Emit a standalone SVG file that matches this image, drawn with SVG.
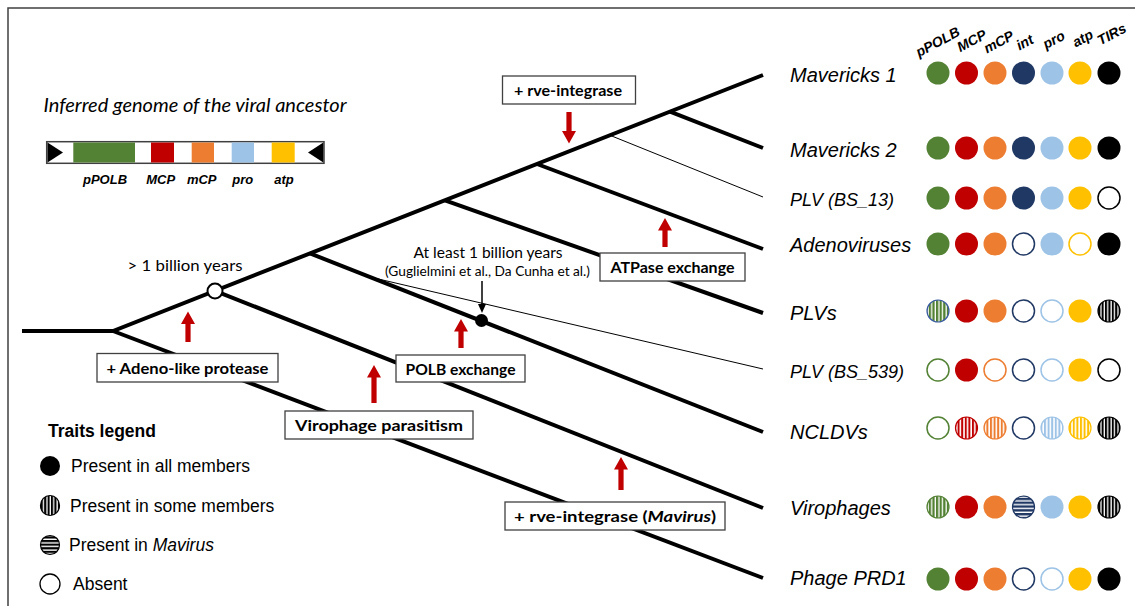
<svg xmlns="http://www.w3.org/2000/svg" width="1135" height="606" viewBox="0 0 1135 606">
<defs>
<style>
.frame{stroke:#404040;stroke-width:1.5;fill:none}
.br{stroke:#000;stroke-width:4;fill:none}
.thin{stroke:#000;stroke-width:1;fill:none}
.box{fill:#fff;stroke:#404040;stroke-width:1.3}
.bt{font-family:Lato,"Open Sans",sans-serif;font-weight:bold;font-size:16px;text-anchor:middle;fill:#000}
.ann{font-family:Lato,"Open Sans",sans-serif;text-anchor:middle;fill:#000}
.tax{font-family:"Liberation Sans",Arial,sans-serif;font-style:italic;font-size:20px;fill:#000}
.tax.sm{font-size:18px}
.gl{font-family:"Liberation Sans",Arial,sans-serif;font-style:italic;font-weight:bold;font-size:13px;text-anchor:middle;fill:#000}
.hd{font-family:"Liberation Sans",Arial,sans-serif;font-style:italic;font-weight:bold;font-size:14px;text-anchor:middle;fill:#000}
.leg{font-family:"Liberation Sans",Arial,sans-serif;font-size:17.5px;fill:#000}
.red{fill:#C00000}
.g{fill:#548235}.r{fill:#C00000}.o{fill:#ED7D31}.n{fill:#203864}.b{fill:#9DC3E6}.y{fill:#FFC000}.k{fill:#000}
.og{fill:#fff;stroke:#548235;stroke-width:1.5}.or{fill:#fff;stroke:#C00000;stroke-width:1.5}.oo{fill:#fff;stroke:#ED7D31;stroke-width:1.5}
.on{fill:#fff;stroke:#203864;stroke-width:1.5}.ob{fill:#fff;stroke:#9DC3E6;stroke-width:1.5}.oy{fill:#fff;stroke:#FFC000;stroke-width:1.5}.ok{fill:#fff;stroke:#000;stroke-width:1.5}
.sg{fill:url(#vG);stroke:#548235;stroke-width:1.2}.sr{fill:url(#vR);stroke:#C00000;stroke-width:1.2}.so{fill:url(#vO);stroke:#ED7D31;stroke-width:1.2}
.sb{fill:url(#vB);stroke:#9DC3E6;stroke-width:1.2}.sy{fill:url(#vY);stroke:#FFC000;stroke-width:1.2}.sk{fill:url(#vK);stroke:#000;stroke-width:1.2}
.sg.bl{stroke:#3A5BA0}
.hn{fill:url(#hN);stroke:#203864;stroke-width:1.2}
</style>
<pattern id="vG" patternUnits="userSpaceOnUse" width="3.6" height="10"><rect width="3.6" height="10" fill="#fff"/><rect width="2.3" height="10" fill="#548235"/></pattern>
<pattern id="vR" patternUnits="userSpaceOnUse" width="3.6" height="10"><rect width="3.6" height="10" fill="#fff"/><rect width="2" height="10" fill="#C00000"/></pattern>
<pattern id="vO" patternUnits="userSpaceOnUse" width="3.6" height="10"><rect width="3.6" height="10" fill="#fff"/><rect width="2" height="10" fill="#ED7D31"/></pattern>
<pattern id="vB" patternUnits="userSpaceOnUse" width="3.6" height="10"><rect width="3.6" height="10" fill="#fff"/><rect width="2" height="10" fill="#9DC3E6"/></pattern>
<pattern id="vY" patternUnits="userSpaceOnUse" width="3.6" height="10"><rect width="3.6" height="10" fill="#fff"/><rect width="2" height="10" fill="#FFC000"/></pattern>
<pattern id="vK" patternUnits="userSpaceOnUse" width="3.4" height="10"><rect width="3.4" height="10" fill="#fff"/><rect width="2.1" height="10" fill="#000"/></pattern>
<pattern id="hN" patternUnits="userSpaceOnUse" width="10" height="3.8"><rect width="10" height="3.8" fill="#fff"/><rect width="10" height="2.4" fill="#203864"/></pattern>
<pattern id="hK" patternUnits="userSpaceOnUse" width="10" height="3.6"><rect width="10" height="3.6" fill="#fff"/><rect width="10" height="2.2" fill="#000"/></pattern>
</defs>
<rect width="1135" height="606" fill="#fff"/>
<path class="frame" d="M8,606 L8,8 L1135,8"/>

<g id="genome">
<text class="ann" x="195" y="112" font-size="19" font-style="italic" textLength="303" lengthAdjust="spacingAndGlyphs">Inferred genome of the viral ancestor</text>
<rect x="46.7" y="141.7" width="277.3" height="21.6" fill="#fff" stroke="#404040" stroke-width="1.5"/>
<polygon points="47.5,142.5 63,152.5 47.5,162.5" fill="#000"/>
<polygon points="323.3,142.5 308,152.5 323.3,162.5" fill="#000"/>
<rect x="73.3" y="142.5" width="61.7" height="20" class="g"/>
<rect x="151" y="142.5" width="23" height="20" class="r"/>
<rect x="191.7" y="142.5" width="22.3" height="20" class="o"/>
<rect x="231.7" y="142.5" width="22.3" height="20" class="b"/>
<rect x="271.7" y="142.5" width="23" height="20" class="y"/>
<text class="gl" x="105" y="184">pPOLB</text>
<text class="gl" x="160.7" y="184">MCP</text>
<text class="gl" x="201.7" y="184">mCP</text>
<text class="gl" x="242.7" y="184">pro</text>
<text class="gl" x="284" y="184">atp</text>
</g>

<g id="connectors">
<path class="br" d="M22,331 L113,331 L763,75"/>
<path class="br" d="M670,111.7 L763,148"/>
<path class="br" d="M537,164 L763,249"/>
<path class="br" d="M445,200.3 L763,313"/>
<path class="br" d="M310,253.4 L763,432"/>
<path class="br" d="M215,290.8 L763,508"/>
<path class="br" d="M113,331 L763,578"/>
<path class="thin" d="M610,135.3 L763,197"/>
<path class="thin" d="M372,277.5 L763,369"/>
<line x1="482" y1="281" x2="482" y2="306" stroke="#000" stroke-width="1.5"/>
<polygon points="478,304 486,304 482,313" fill="#000"/>
</g>

<g id="node-root-open"><circle cx="215" cy="291" r="7.5" fill="#fff" stroke="#000" stroke-width="2"/>
<text class="ann" x="185" y="271" font-size="15" textLength="115" lengthAdjust="spacingAndGlyphs">&gt; 1 billion years</text></g>
<g id="node-dated"><circle cx="481.5" cy="320.5" r="6.5" fill="#000"/>
<text class="ann" x="488" y="258" font-size="15.5" textLength="149" lengthAdjust="spacingAndGlyphs">At least 1 billion years</text>
<text class="ann" x="487.5" y="275.5" font-size="12.5" textLength="205" lengthAdjust="spacingAndGlyphs">(Guglielmini et al., Da Cunha et al.)</text></g>

<g id="ev-rve">
<path class="red" d="M569,143.5 L576,131 L571.6,131 L571.6,112 L566.4,112 L566.4,131 L562,131 Z"/>
<rect class="box" x="502.5" y="76" width="133" height="28"/>
<text class="bt" x="568" y="96" textLength="108" lengthAdjust="spacingAndGlyphs">+ rve-integrase</text></g>
<g id="ev-atpase">
<path class="red" d="M665,218 L672,230.5 L667.6,230.5 L667.6,247 L662.4,247 L662.4,230.5 L658,230.5 Z"/>
<rect class="box" x="600" y="253" width="145" height="28"/>
<text class="bt" x="672.5" y="273" textLength="124" lengthAdjust="spacingAndGlyphs">ATPase exchange</text></g>
<g id="ev-adeno">
<path class="red" d="M188,311.5 L195,324 L190.6,324 L190.6,342 L185.4,342 L185.4,324 L181,324 Z"/>
<rect class="box" x="97" y="353.5" width="181" height="28.5"/>
<text class="bt" x="187.5" y="373.5" textLength="162" lengthAdjust="spacingAndGlyphs">+ Adeno-like protease</text></g>
<g id="ev-polb">
<path class="red" d="M461,319 L468,331.5 L463.6,331.5 L463.6,348 L458.4,348 L458.4,331.5 L454,331.5 Z"/>
<rect class="box" x="396" y="355" width="129" height="27"/>
<text class="bt" x="460.5" y="374.5" textLength="110" lengthAdjust="spacingAndGlyphs">POLB exchange</text></g>
<g id="ev-parasitism">
<path class="red" d="M374,365 L381,377.5 L376.6,377.5 L376.6,403 L371.4,403 L371.4,377.5 L367,377.5 Z"/>
<rect class="box" x="285" y="411" width="188" height="28"/>
<text class="bt" x="379" y="430.5" textLength="168" lengthAdjust="spacingAndGlyphs">Virophage parasitism</text></g>
<g id="ev-mavirus">
<path class="red" d="M621,457 L628,469.5 L623.6,469.5 L623.6,490 L618.4,490 L618.4,469.5 L614,469.5 Z"/>
<rect class="box" x="505" y="502" width="220" height="28"/>
<text class="bt" x="615" y="521.5" textLength="202" lengthAdjust="spacingAndGlyphs">+ rve-integrase (<tspan font-style="italic">Mavirus</tspan>)</text></g>

<g id="headers" class="hd">
<text x="940" y="46" transform="rotate(-28 940 46)">pPOLB</text>
<text x="974" y="45" transform="rotate(-28 974 45)">MCP</text>
<text x="1001" y="46" transform="rotate(-28 1001 46)">mCP</text>
<text x="1027" y="46.5" transform="rotate(-28 1027 46.5)">int</text>
<text x="1056" y="44" transform="rotate(-28 1056 44)">pro</text>
<text x="1085" y="42.5" transform="rotate(-28 1085 42.5)">atp</text>
<text x="1114" y="38.5" transform="rotate(-28 1114 38.5)">TIRs</text>
</g>

<g id="taxon-mavericks1"><text class="tax" x="790" y="82">Mavericks 1</text>
<circle cx="938" cy="73" r="11.5" class="g"/><circle cx="966.5" cy="73" r="11.5" class="r"/><circle cx="995" cy="73" r="11.5" class="o"/><circle cx="1023.5" cy="73" r="11.5" class="n"/><circle cx="1052" cy="73" r="11.5" class="b"/><circle cx="1080" cy="73" r="11.5" class="y"/><circle cx="1109" cy="73" r="11.5" class="k"/></g>
<g id="taxon-mavericks2"><text class="tax" x="790" y="157">Mavericks 2</text>
<circle cx="938" cy="148" r="11.5" class="g"/><circle cx="966.5" cy="148" r="11.5" class="r"/><circle cx="995" cy="148" r="11.5" class="o"/><circle cx="1023.5" cy="148" r="11.5" class="n"/><circle cx="1052" cy="148" r="11.5" class="b"/><circle cx="1080" cy="148" r="11.5" class="y"/><circle cx="1109" cy="148" r="11.5" class="k"/></g>
<g id="taxon-plv-bs13"><text class="tax sm" x="790" y="205.5">PLV (BS_13)</text>
<circle cx="938" cy="198" r="11.5" class="g"/><circle cx="966.5" cy="198" r="11.5" class="r"/><circle cx="995" cy="198" r="11.5" class="o"/><circle cx="1023.5" cy="198" r="11.5" class="n"/><circle cx="1052" cy="198" r="11.5" class="b"/><circle cx="1080" cy="198" r="11.5" class="y"/><circle cx="1109" cy="198" r="11" class="ok"/></g>
<g id="taxon-adenoviruses"><text class="tax" x="790" y="252">Adenoviruses</text>
<circle cx="938" cy="244" r="11.5" class="g"/><circle cx="966.5" cy="244" r="11.5" class="r"/><circle cx="995" cy="244" r="11.5" class="o"/><circle cx="1023.5" cy="244" r="11" class="on"/><circle cx="1052" cy="244" r="11.5" class="b"/><circle cx="1080" cy="244" r="11" class="oy"/><circle cx="1109" cy="244" r="11.5" class="k"/></g>
<g id="taxon-plvs"><text class="tax" x="790" y="320">PLVs</text>
<circle cx="938" cy="311" r="11" class="sg bl"/><circle cx="966.5" cy="311" r="11.5" class="r"/><circle cx="995" cy="311" r="11.5" class="o"/><circle cx="1023.5" cy="311" r="11" class="on"/><circle cx="1052" cy="311" r="11" class="ob"/><circle cx="1080" cy="311" r="11.5" class="y"/><circle cx="1109" cy="311" r="11" class="sk"/></g>
<g id="taxon-plv-bs539"><text class="tax sm" x="790" y="377.5">PLV (BS_539)</text>
<circle cx="938" cy="370" r="11" class="og"/><circle cx="966.5" cy="370" r="11.5" class="r"/><circle cx="995" cy="370" r="11" class="oo"/><circle cx="1023.5" cy="370" r="11" class="on"/><circle cx="1052" cy="370" r="11" class="ob"/><circle cx="1080" cy="370" r="11.5" class="y"/><circle cx="1109" cy="370" r="11" class="ok"/></g>
<g id="taxon-ncldvs"><text class="tax" x="790" y="439">NCLDVs</text>
<circle cx="938" cy="428" r="11" class="og"/><circle cx="966.5" cy="428" r="11" class="sr"/><circle cx="995" cy="428" r="11" class="so"/><circle cx="1023.5" cy="428" r="11" class="on"/><circle cx="1052" cy="428" r="11" class="sb"/><circle cx="1080" cy="428" r="11" class="sy"/><circle cx="1109" cy="428" r="11" class="sk"/></g>
<g id="taxon-virophages"><text class="tax" x="790" y="515">Virophages</text>
<circle cx="938" cy="507" r="11" class="sg"/><circle cx="966.5" cy="507" r="11.5" class="r"/><circle cx="995" cy="507" r="11.5" class="o"/><circle cx="1023.5" cy="507" r="11" class="hn"/><circle cx="1052" cy="507" r="11.5" class="b"/><circle cx="1080" cy="507" r="11.5" class="y"/><circle cx="1109" cy="507" r="11" class="sk"/></g>
<g id="taxon-prd1"><text class="tax" x="790" y="585">Phage PRD1</text>
<circle cx="938" cy="579" r="11.5" class="g"/><circle cx="966.5" cy="579" r="11.5" class="r"/><circle cx="995" cy="579" r="11.5" class="o"/><circle cx="1023.5" cy="579" r="11" class="on"/><circle cx="1052" cy="579" r="11" class="ob"/><circle cx="1080" cy="579" r="11.5" class="y"/><circle cx="1109" cy="579" r="11.5" class="k"/></g>

<g id="legend">
<text class="leg" x="48" y="437" font-weight="bold">Traits legend</text>
<circle cx="50" cy="466" r="10" fill="#000"/>
<text class="leg" x="71" y="472">Present in all members</text>
<ellipse cx="50" cy="505.5" rx="9.5" ry="10" fill="url(#vK)" stroke="#000" stroke-width="1.2"/>
<text class="leg" x="70" y="511.5">Present in some members</text>
<ellipse cx="50" cy="545" rx="9.5" ry="9.5" fill="url(#hK)" stroke="#000" stroke-width="1.2"/>
<text class="leg" x="69" y="551">Present in <tspan font-style="italic">Mavirus</tspan></text>
<circle cx="50" cy="584" r="10" fill="#fff" stroke="#000" stroke-width="1.3"/>
<text class="leg" x="73" y="590">Absent</text>
</g>
</svg>
